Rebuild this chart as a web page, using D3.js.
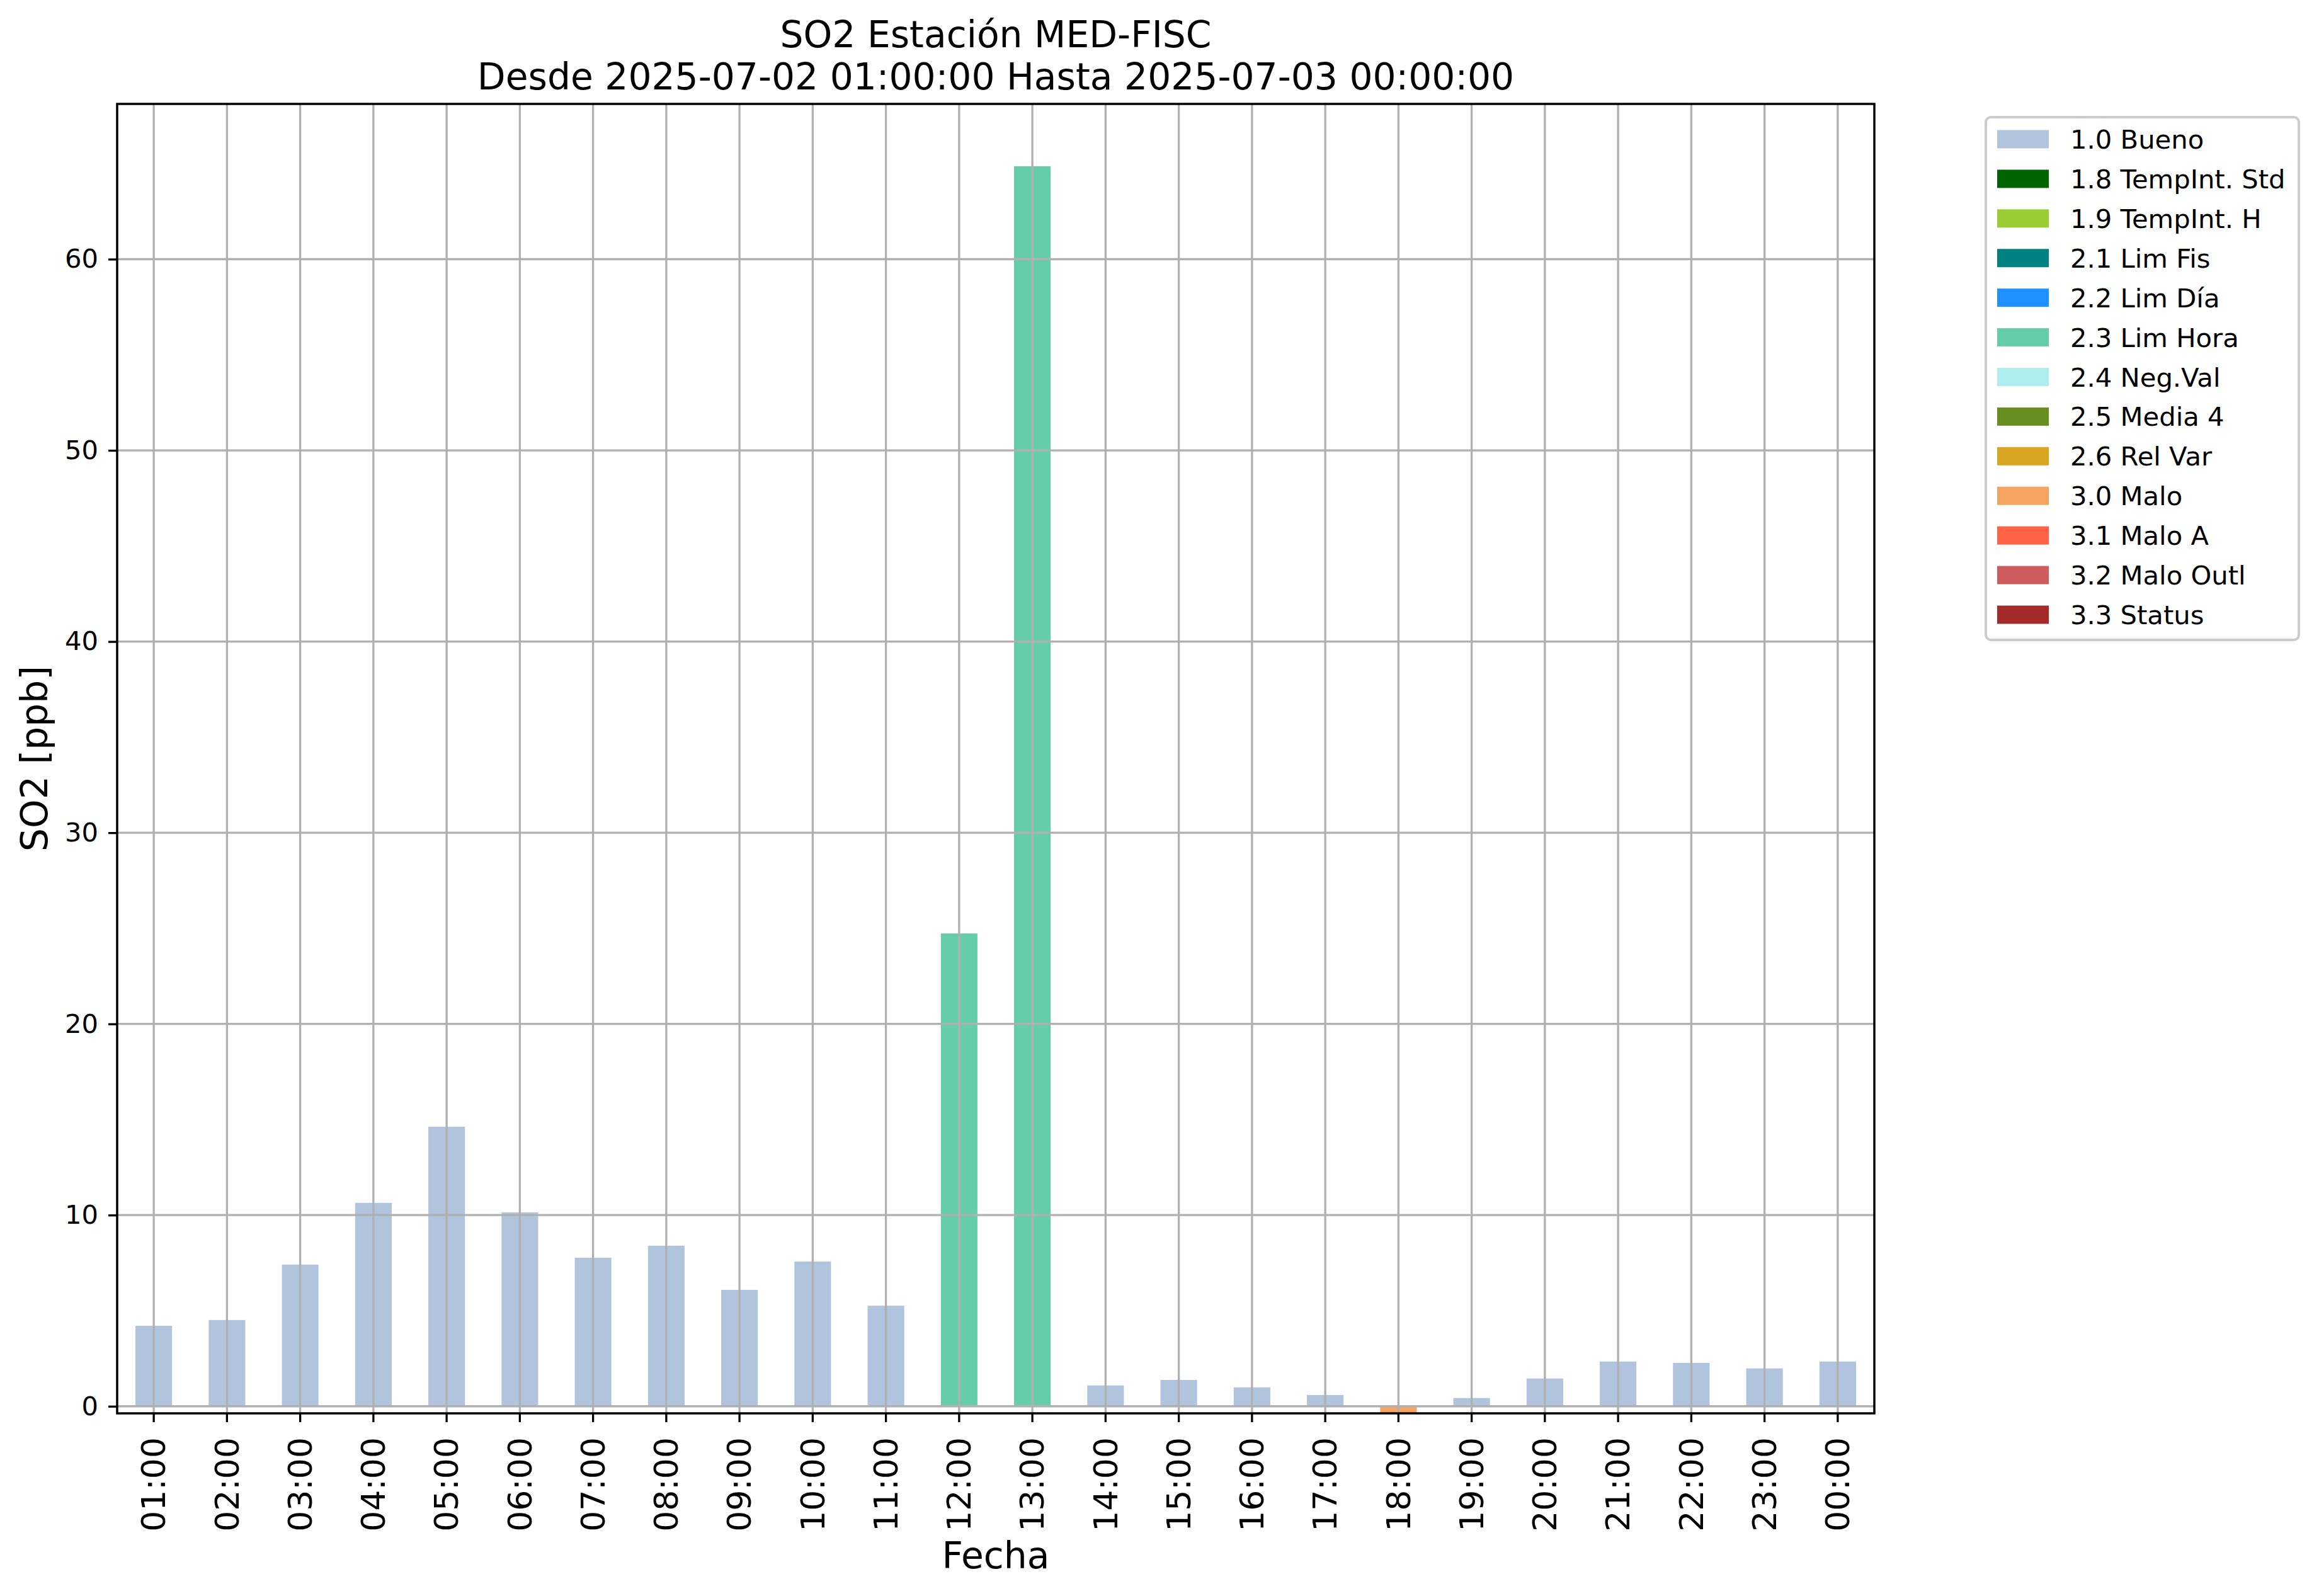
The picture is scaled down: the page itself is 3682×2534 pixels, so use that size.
<!DOCTYPE html>
<html>
<head>
<meta charset="utf-8">
<script src="https://cdn.jsdelivr.net/npm/d3@7"></script>
<style>
  html, body { margin: 0; padding: 0; background: #fff; }
  svg { display: block; font-family: "DejaVu Sans", sans-serif; }
</style>
</head>
<body>
<svg id="chart" width="3682" height="2534"></svg>
<script>
// ---- data ----
const hours = ["01:00","02:00","03:00","04:00","05:00","06:00","07:00","08:00","09:00","10:00","11:00","12:00",
               "13:00","14:00","15:00","16:00","17:00","18:00","19:00","20:00","21:00","22:00","23:00","00:00"];
const so2Values = [4.21, 4.51, 7.41, 10.64, 14.62, 10.14, 7.77, 8.40, 6.09, 7.57, 5.26, 24.73,
                   64.86, 1.09, 1.38, 0.99, 0.59, -0.37, 0.43, 1.45, 2.34, 2.27, 1.98, 2.34];
const flags = ["1.0 Bueno","1.0 Bueno","1.0 Bueno","1.0 Bueno","1.0 Bueno","1.0 Bueno","1.0 Bueno","1.0 Bueno",
               "1.0 Bueno","1.0 Bueno","1.0 Bueno","2.3 Lim Hora","2.3 Lim Hora","1.0 Bueno","1.0 Bueno","1.0 Bueno",
               "1.0 Bueno","3.0 Malo","1.0 Bueno","1.0 Bueno","1.0 Bueno","1.0 Bueno","1.0 Bueno","1.0 Bueno"];
const legendLabels = ["1.0 Bueno","1.8 TempInt. Std","1.9 TempInt. H","2.1 Lim Fis","2.2 Lim Día","2.3 Lim Hora",
                      "2.4 Neg.Val","2.5 Media 4","2.6 Rel Var","3.0 Malo","3.1 Malo A","3.2 Malo Outl","3.3 Status"];
const legendColors = ["#b0c4de","#006400","#9acd32","#008080","#1e90ff","#66cdaa",
                      "#afeeee","#6b8e23","#daa520","#f4a460","#ff6347","#cd5c5c","#a52a2a"];
const yTicks = [0, 10, 20, 30, 40, 50, 60];
const titleLines = ["SO2 Estación MED-FISC", "Desde 2025-07-02 01:00:00 Hasta 2025-07-03 00:00:00"];
const xLabel = "Fecha";
const yLabel = "SO2 [ppb]";

// ---- layout ----
const L = 186, R = 2976, T = 165, B = 2244;
const svg = d3.select("#chart");
const color = d3.scaleOrdinal().domain(legendLabels).range(legendColors);

const x = d3.scaleBand().domain(hours).range([L, R]).paddingInner(0.5).paddingOuter(0.25);
const y = d3.scaleLinear().domain([-0.37, 68.12]).range([B, T]);

const data = hours.map((h, i) => ({h, v: so2Values[i], f: flags[i]}));

svg.append("defs").append("clipPath").attr("id", "clip")
  .append("rect").attr("x", L).attr("y", T).attr("width", R - L).attr("height", B - T);

// bars
svg.append("g").attr("clip-path", "url(#clip)")
  .selectAll("rect").data(data).join("rect")
  .attr("x", d => x(d.h))
  .attr("width", x.bandwidth())
  .attr("y", d => Math.min(y(d.v), y(0)))
  .attr("height", d => Math.abs(y(d.v) - y(0)))
  .attr("fill", d => color(d.f));

// grid (drawn above bars)
const grid = svg.append("g").attr("stroke", "#b0b0b0").attr("stroke-width", 3.3);
grid.selectAll("line.v").data(hours).join("line").attr("class", "v")
  .attr("x1", d => x(d) + x.bandwidth() / 2).attr("x2", d => x(d) + x.bandwidth() / 2)
  .attr("y1", T).attr("y2", B);
grid.selectAll("line.h").data(yTicks).join("line").attr("class", "h")
  .attr("x1", L).attr("x2", R).attr("y1", d => y(d)).attr("y2", d => y(d));

// axes
const yAxis = svg.append("g").attr("transform", `translate(${L},0)`)
  .call(d3.axisLeft(y).tickValues(yTicks).tickSize(14).tickPadding(16).tickFormat(d3.format("d")));
yAxis.select(".domain").remove();
yAxis.selectAll("line").attr("stroke", "#000").attr("stroke-width", 3.3);
yAxis.selectAll("text").attr("font-size", 41.7).attr("font-family", "DejaVu Sans").attr("fill", "#000");

const xAxis = svg.append("g").attr("transform", `translate(0,${B})`)
  .call(d3.axisBottom(x).tickSize(14).tickSizeOuter(0));
xAxis.select(".domain").remove();
xAxis.selectAll("line").attr("stroke", "#000").attr("stroke-width", 3.3);
xAxis.selectAll("text")
  .attr("font-size", 52).attr("font-family", "DejaVu Sans").attr("fill", "#000")
  .attr("text-anchor", "end")
  .attr("x", 0).attr("y", 0).attr("dy", "0.35em")
  .attr("transform", "translate(0,38) rotate(-90)");

// spines
svg.append("rect").attr("x", L).attr("y", T).attr("width", R - L).attr("height", B - T)
  .attr("fill", "none").attr("stroke", "#000").attr("stroke-width", 3.5);

// titles
svg.append("g").selectAll("text").data(titleLines).join("text")
  .attr("x", (L + R) / 2).attr("y", (d, i) => 75 + i * 67)
  .attr("text-anchor", "middle").attr("font-size", 58.3).attr("fill", "#000")
  .text(d => d);

svg.append("text").attr("x", (L + R) / 2).attr("y", 2490)
  .attr("text-anchor", "middle").attr("font-size", 58.3).text(xLabel);

svg.append("text").attr("transform", `translate(75,${(T + B) / 2}) rotate(-90)`)
  .attr("text-anchor", "middle").attr("font-size", 58.3).text(yLabel);

// legend
const lg = svg.append("g");
lg.append("rect").attr("x", 3153).attr("y", 186).attr("width", 497).attr("height", 830)
  .attr("rx", 8).attr("fill", "#fff").attr("fill-opacity", 0.8)
  .attr("stroke", "#cccccc").attr("stroke-width", 4);
const rowY = d3.scaleLinear().domain([0, legendLabels.length - 1]).range([221, 976]);
const items = lg.selectAll("g.item").data(legendLabels).join("g").attr("class", "item");
items.append("rect").attr("x", 3171).attr("y", (d, i) => rowY(i) - 14.5)
  .attr("width", 82).attr("height", 29).attr("fill", (d, i) => legendColors[i]);
items.append("text").attr("x", 3287).attr("y", (d, i) => rowY(i)).attr("dy", "0.36em")
  .attr("font-size", 41.7).attr("fill", "#000").text(d => d);
</script>
</body>
</html>
